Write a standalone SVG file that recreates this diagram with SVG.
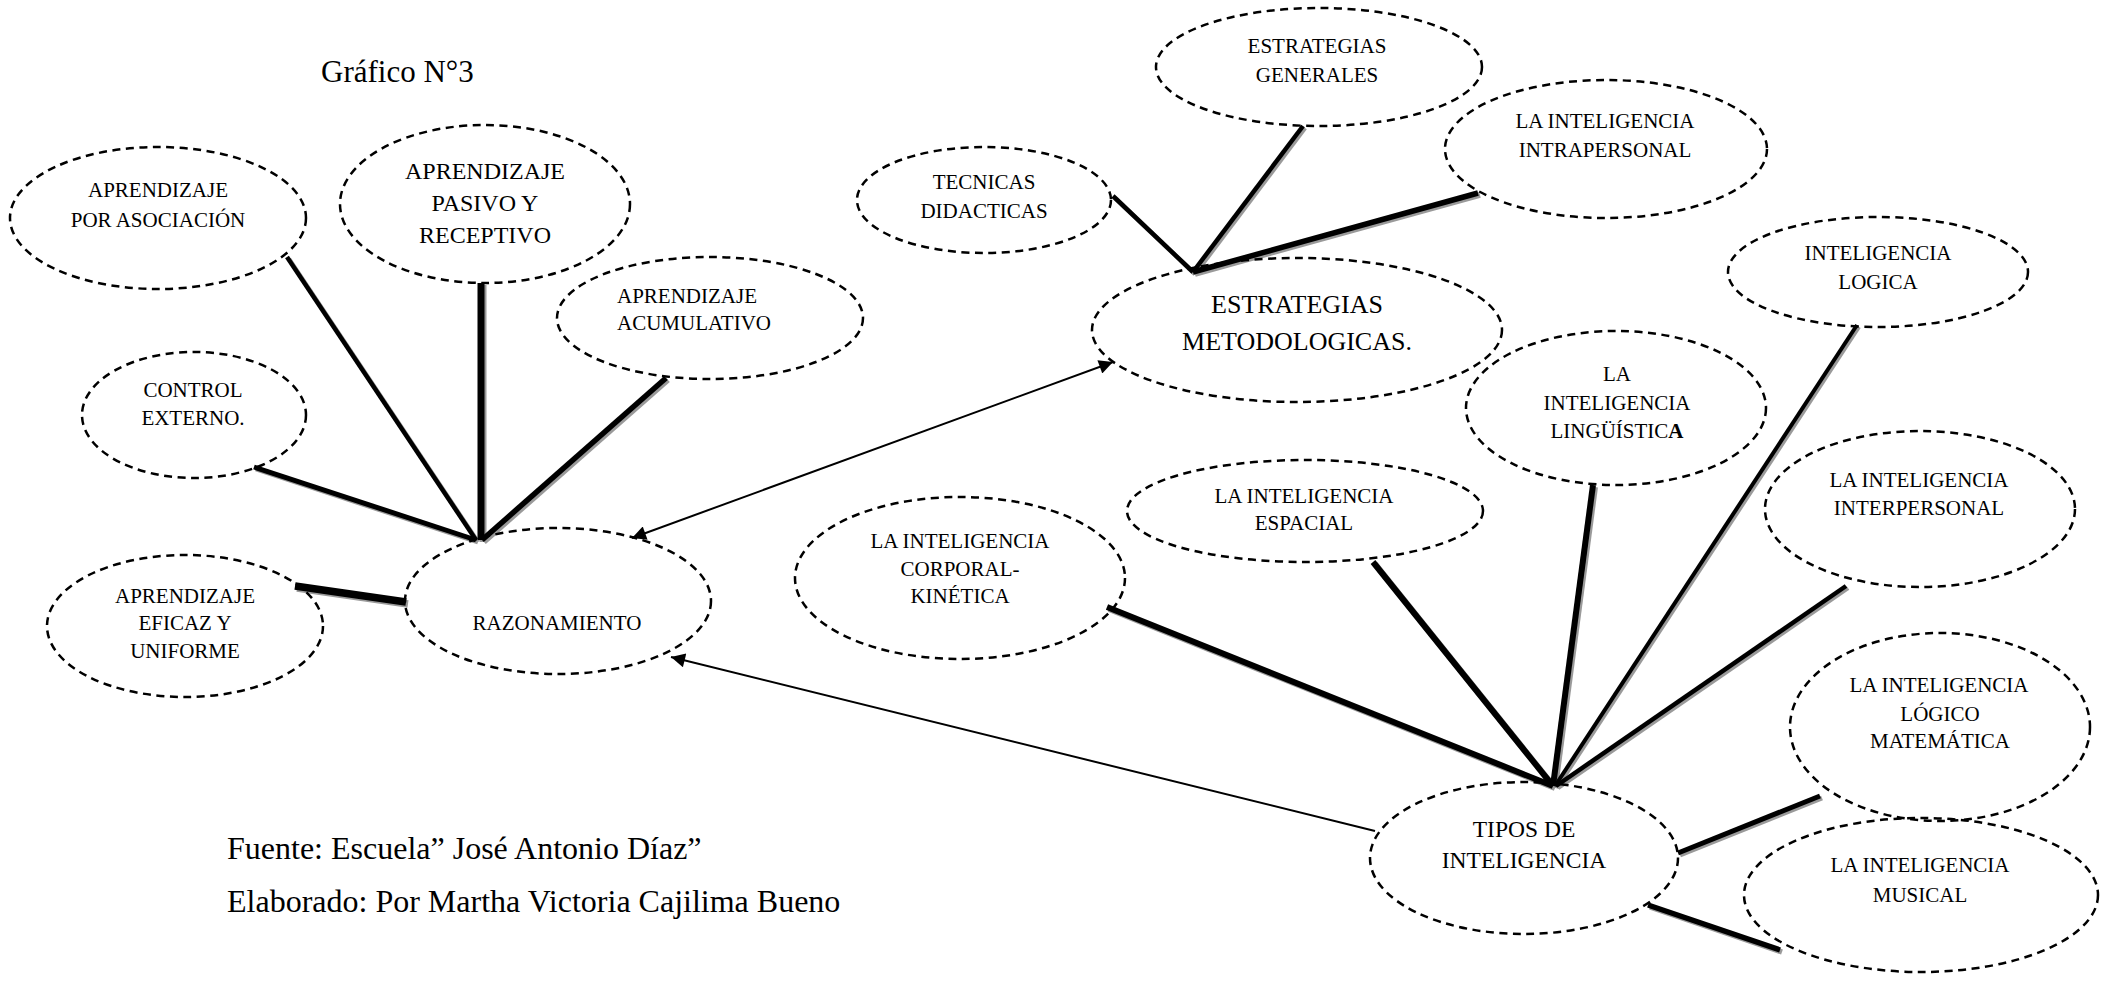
<svg xmlns="http://www.w3.org/2000/svg" xmlns:xlink="http://www.w3.org/1999/xlink" width="2113" height="982" viewBox="0 0 2113 982">
<style>
.n{fill:none;stroke:#000;stroke-width:2.5;stroke-dasharray:8 5.5}
.t{font-family:"Liberation Serif","Times New Roman",serif;font-size:21px;fill:#000;text-anchor:middle}
.big{font-size:24px}
.cap{font-family:"Liberation Serif","Times New Roman",serif;font-size:31px;fill:#000}
.foot{font-size:32px}
.arr{stroke:#000;stroke-width:2;fill:none}
</style>
<defs>
<marker id="ahs" viewBox="0 0 10 10" refX="10" refY="5" markerWidth="18" markerHeight="14" markerUnits="userSpaceOnUse" orient="auto-start-reverse">
<path d="M0,0 L10,5 L0,10 Z" fill="#000"/>
</marker>
<g id="conlines" stroke-linecap="butt">
<line x1="287" y1="257" x2="476" y2="540" stroke-width="4.5"/>
<line x1="481" y1="283" x2="481" y2="540" stroke-width="7"/>
<line x1="666" y1="378" x2="482" y2="540" stroke-width="5.5"/>
<line x1="254" y1="467" x2="476" y2="540" stroke-width="5"/>
<line x1="295" y1="586" x2="406" y2="602" stroke-width="7.5"/>
<line x1="1113" y1="196" x2="1193" y2="272" stroke-width="4.5"/>
<line x1="1303" y1="126" x2="1193" y2="272" stroke-width="4.5"/>
<line x1="1478" y1="193" x2="1193" y2="272" stroke-width="5.5"/>
<line x1="1107" y1="607" x2="1553" y2="786" stroke-width="6"/>
<line x1="1373" y1="562" x2="1553" y2="786" stroke-width="6"/>
<line x1="1593" y1="485" x2="1553" y2="786" stroke-width="6"/>
<line x1="1857" y1="325" x2="1555" y2="786" stroke-width="4"/>
<line x1="1846" y1="586" x2="1556" y2="786" stroke-width="4.5"/>
<line x1="1820" y1="796" x2="1678" y2="853" stroke-width="5"/>
<line x1="1648" y1="905" x2="1780" y2="950" stroke-width="5.5"/>
</g>
</defs>
<rect width="2113" height="982" fill="#fff"/>

<g id="connectors">
<use xlink:href="#conlines" href="#conlines" transform="translate(2,2)" stroke="#9a9a9a"/>
<use xlink:href="#conlines" href="#conlines" stroke="#000"/>
<line class="arr" x1="1375" y1="831" x2="671" y2="657" marker-end="url(#ahs)"/>
<line class="arr" x1="632" y1="538" x2="1113" y2="362" marker-start="url(#ahs)" marker-end="url(#ahs)"/>
</g>

<text class="cap" x="321" y="82">Gráfico N°3</text>

<g id="asociacion"><ellipse class="n" cx="158" cy="218" rx="148" ry="71"/>
<text class="t" x="158" y="197">APRENDIZAJE</text><text class="t" x="158" y="227">POR ASOCIACIÓN</text></g>

<g id="pasivo"><ellipse class="n" cx="485" cy="204" rx="145" ry="79"/>
<text class="t big" x="485" y="179">APRENDIZAJE</text><text class="t big" x="485" y="211">PASIVO Y</text><text class="t big" x="485" y="243">RECEPTIVO</text></g>

<g id="acumulativo"><ellipse class="n" cx="710" cy="318" rx="153" ry="61"/>
<text class="t" x="617" y="303" style="text-anchor:start">APRENDIZAJE</text><text class="t" x="617" y="330" style="text-anchor:start">ACUMULATIVO</text></g>

<g id="control"><ellipse class="n" cx="194" cy="415" rx="112" ry="63"/>
<text class="t" x="193" y="397">CONTROL</text><text class="t" x="193" y="425">EXTERNO.</text></g>

<g id="eficaz"><ellipse class="n" cx="185" cy="626" rx="138" ry="71"/>
<text class="t" x="185" y="603">APRENDIZAJE</text><text class="t" x="185" y="630">EFICAZ Y</text><text class="t" x="185" y="658">UNIFORME</text></g>

<g id="razonamiento"><ellipse class="n" cx="558" cy="601" rx="153" ry="73"/>
<text class="t" x="557" y="630">RAZONAMIENTO</text></g>

<g id="generales"><ellipse class="n" cx="1319" cy="67" rx="163" ry="59"/>
<text class="t" x="1317" y="53">ESTRATEGIAS</text><text class="t" x="1317" y="82">GENERALES</text></g>

<g id="intrapersonal"><ellipse class="n" cx="1606" cy="149" rx="161" ry="69"/>
<text class="t" x="1605" y="128">LA INTELIGENCIA</text><text class="t" x="1605" y="157">INTRAPERSONAL</text></g>

<g id="tecnicas"><ellipse class="n" cx="984" cy="200" rx="127" ry="53"/>
<text class="t" x="984" y="189">TECNICAS</text><text class="t" x="984" y="218">DIDACTICAS</text></g>

<g id="metodologicas"><ellipse class="n" cx="1297" cy="330" rx="205" ry="72"/>
<text class="t" x="1297" y="313" style="font-size:26px">ESTRATEGIAS</text><text class="t" x="1297" y="350" style="font-size:26px">METODOLOGICAS.</text></g>

<g id="logica"><ellipse class="n" cx="1878" cy="272" rx="150" ry="55"/>
<text class="t" x="1878" y="260">INTELIGENCIA</text><text class="t" x="1878" y="289">LOGICA</text></g>

<g id="linguistica"><ellipse class="n" cx="1616" cy="408" rx="150" ry="77"/>
<text class="t" x="1617" y="381">LA</text><text class="t" x="1617" y="410">INTELIGENCIA</text><text class="t" x="1617" y="438">LINGÜÍSTIC<tspan font-weight="bold">A</tspan></text></g>

<g id="espacial"><ellipse class="n" cx="1305" cy="511" rx="178" ry="51"/>
<text class="t" x="1304" y="503">LA INTELIGENCIA</text><text class="t" x="1304" y="530">ESPACIAL</text></g>

<g id="corporal"><ellipse class="n" cx="960" cy="578" rx="165" ry="81"/>
<text class="t" x="960" y="548">LA INTELIGENCIA</text><text class="t" x="960" y="576">CORPORAL-</text><text class="t" x="960" y="603">KINÉTICA</text></g>

<g id="interpersonal"><ellipse class="n" cx="1920" cy="509" rx="155" ry="78"/>
<text class="t" x="1919" y="487">LA INTELIGENCIA</text><text class="t" x="1919" y="515">INTERPERSONAL</text></g>

<g id="logicomatematica"><ellipse class="n" cx="1940" cy="727" rx="150" ry="94"/>
<text class="t" x="1939" y="692">LA INTELIGENCIA</text><text class="t" x="1940" y="721">LÓGICO</text><text class="t" x="1940" y="748">MATEMÁTICA</text></g>

<g id="musical"><ellipse class="n" cx="1921" cy="895" rx="177" ry="77"/>
<text class="t" x="1920" y="872">LA INTELIGENCIA</text><text class="t" x="1920" y="902">MUSICAL</text></g>

<g id="tipos"><ellipse class="n" cx="1524" cy="858" rx="154" ry="76"/>
<text class="t" x="1524" y="837" style="font-size:23.5px">TIPOS DE</text><text class="t" x="1524" y="868" style="font-size:23.5px">INTELIGENCIA</text></g>

<text class="cap foot" x="227" y="859">Fuente: Escuela” José Antonio Díaz”</text>
<text class="cap foot" x="227" y="912">Elaborado: Por Martha Victoria Cajilima Bueno</text>
</svg>
